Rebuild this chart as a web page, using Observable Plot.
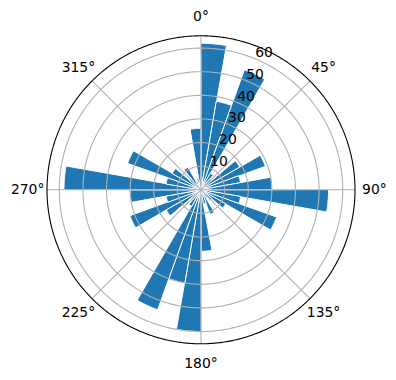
<!DOCTYPE html>
<html><head><meta charset="utf-8">
<script src="https://cdn.jsdelivr.net/npm/d3@7"></script>
<script src="https://cdn.jsdelivr.net/npm/@observablehq/plot@0.6"></script>
<style>body{margin:0;background:#fff}</style>
</head><body><div id="chart"></div>
<script>
const binStart = [0,10,20,30,40,50,60,70,80,90,100,110,120,130,140,150,160,170,180,190,200,210,220,230,240,250,260,270,280,290,300,310,320,330,340,350];
const binWidth = 10;
const counts = [62,38,54,8,6,19,29,17,30,54,17,34,12,6,4,11,6,26,60,40,54,8,5,17,32,15,30,58,15,33,14,6,11,4,5,26];
const rTicks = [10,20,30,40,50,60];
const thetaTicks = [0,45,90,135,180,225,270,315];
const thetaLabels = ["0°","45°","90°","135°","180°","225°","270°","315°"];
const rMax = 65.2;
const rLabelAngle = 22.5;
const thetaLabelR = 73.4;

const lon = t => 180 - t;
const lat = r => 90 - r;

function wedge(t0, t1, r) {
  const ring = [];
  const n = 20;
  for (let i = 0; i <= n; i++) ring.push([lon(t0 + (t1 - t0) * i / n), lat(r)]);
  for (let i = n; i >= 0; i--) ring.push([lon(t0 + (t1 - t0) * i / n), lat(0.02)]);
  ring.push(ring[0]);
  let poly = {type: "Polygon", coordinates: [ring]};
  if (d3.geoArea(poly) > 2 * Math.PI) poly = {type: "Polygon", coordinates: [ring.slice().reverse()]};
  return poly;
}
const bars = binStart.map((t, i) => ({theta: t, count: counts[i]}));
const circle = r => d3.geoCircle().center([0, 90]).radius(r).precision(0.5)();

const chart = Plot.plot({
  width: 396, height: 380,
  margin: 0,
  projection: {type: "azimuthal-equidistant", rotate: [0, -90], domain: circle(rMax),
    insetLeft: 46.5, insetRight: 41.5, insetTop: 35.3, insetBottom: 36.7},
  style: {fontFamily: "DejaVu Sans", fontSize: "13.9px", background: "white", color: "black"},
  marks: [
    Plot.geo(bars, {geometry: d => wedge(d.theta, d.theta + binWidth, d.count), fill: "#1f77b4", stroke: "white", strokeWidth: 1}),
    Plot.geo(rTicks, {geometry: r => circle(r), fill: "none", stroke: "#b0b0b0", strokeWidth: 1.1}),
    Plot.link(thetaTicks, {x1: t => lon(t), y1: 90, x2: t => lon(t), y2: lat(rMax), stroke: "#b0b0b0", strokeWidth: 1.1}),
    Plot.geo([rMax], {geometry: r => circle(r), fill: "none", stroke: "black", strokeWidth: 1.1}),
    Plot.text(thetaTicks, {x: t => lon(t), y: lat(thetaLabelR), text: (t, i) => thetaLabels[i], fontSize: 13.9, fill: "black"}),
    Plot.text(rTicks, {x: lon(rLabelAngle), y: r => lat(r), text: r => String(r), textAnchor: "start", dy: -6.3, fontSize: 13.9, fill: "black"})
  ]
});
document.getElementById("chart").appendChild(chart);
</script>
</body></html>
